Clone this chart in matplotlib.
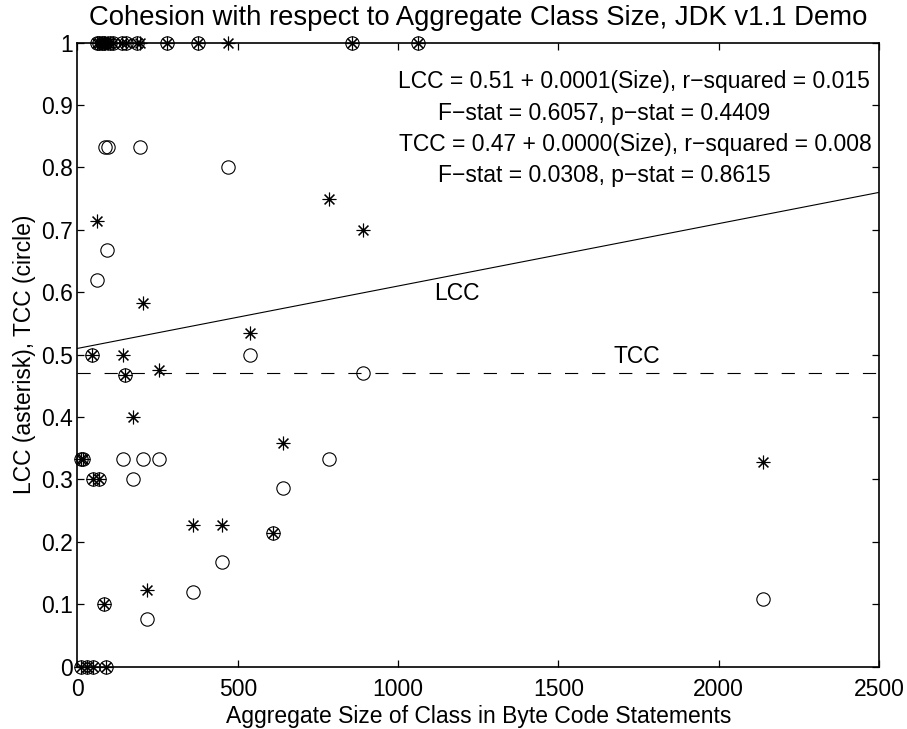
import matplotlib
matplotlib.use("Agg")
import matplotlib.pyplot as plt

# class size (byte code statements) and cohesion values per class
size = [60, 68, 75, 82, 86, 93, 94, 100, 112, 140, 150, 185, 195, 280, 375, 471, 856, 1063,
        62, 784, 890, 203, 538, 44, 143, 148, 254, 172, 10, 16, 50, 68,
        640, 361, 452, 609, 216, 83, 10, 29, 49, 88, 2137]
lcc = [1, 1, 1, 1, 1, 1, 1, 1, 1, 1, 1, 1, 1, 1, 1, 1, 1, 1,
       0.714, 0.75, 0.70, 0.583, 0.535, 0.5, 0.5, 0.467, 0.476, 0.4, 0.333, 0.333, 0.3, 0.3,
       0.358, 0.227, 0.227, 0.214, 0.123, 0.1, 0, 0, 0, 0, 0.328]
tcc = [1, 1, 1, 1, 0.833, 0.667, 0.833, 1, 1, 1, 1, 1, 0.833, 1, 1, 0.8, 1, 1,
       0.62, 0.333, 0.47, 0.333, 0.5, 0.5, 0.333, 0.467, 0.333, 0.3, 0.333, 0.333, 0.3, 0.3,
       0.286, 0.12, 0.167, 0.214, 0.077, 0.1, 0, 0, 0, 0, 0.108]

# regression fits (intercept, slope)
lcc_fit = (0.51, 0.0001)
tcc_fit = (0.47, 0.0)

stats_lines = ["LCC = 0.51 + 0.0001(Size), r\u2212squared = 0.015",
               "F\u2212stat = 0.6057, p\u2212stat = 0.4409",
               "TCC = 0.47 + 0.0000(Size), r\u2212squared = 0.008",
               "F\u2212stat = 0.0308, p\u2212stat = 0.8615"]

xticks = [0, 500, 1000, 1500, 2000, 2500]
yticks = [0, 0.1, 0.2, 0.3, 0.4, 0.5, 0.6, 0.7, 0.8, 0.9, 1]
yticklabels = ["0", "0.1", "0.2", "0.3", "0.4", "0.5", "0.6", "0.7", "0.8", "0.9", "1"]

plt.rcParams['font.family'] = ['Liberation Sans', 'DejaVu Sans']
plt.rcParams['font.size'] = 16.5
plt.rcParams['lines.scale_dashes'] = False

fig = plt.figure(figsize=(9.07, 7.29), dpi=100)
ax = fig.add_axes([0.0854, 0.0855, 0.8837, 0.856])

# regression lines
ax.axline((0, lcc_fit[0]), slope=lcc_fit[1], color='black', lw=0.8)
ax.axline((0, tcc_fit[0]), slope=tcc_fit[1], color='black', lw=0.8, dashes=(9.5, 10))

# data points
ax.plot(size, lcc, linestyle='none', marker=(8, 2, 0), ms=9.8, mec='black', mew=0.8,
        clip_on=False, zorder=3)
ax.plot(size, tcc, linestyle='none', marker='o', ms=9.6, mfc='none', mec='black', mew=0.8,
        clip_on=False, zorder=3)

ax.text(1183, 0.598, "LCC", ha='center', va='center')
ax.text(1744, 0.497, "TCC", ha='center', va='center')

centers = [1737, 1643, 1741, 1643]
for i, line in enumerate(stats_lines):
    ax.text(centers[i], 0.937 - 0.05 * i, line, ha='center', va='center')

ax.set_xlim(0, 2500)
ax.set_ylim(0, 1)
ax.set_xticks(xticks)
ax.set_xticklabels([str(t) for t in xticks])
ax.set_yticks(yticks)
ax.set_yticklabels(yticklabels)
ax.tick_params(direction='in', length=5.3, width=0.9, top=True, right=True)
ax.tick_params(axis='x', pad=8)
ax.tick_params(axis='y', pad=3)
for s in ax.spines.values():
    s.set_linewidth(1.2)

ax.set_title("Cohesion with respect to Aggregate Class Size, JDK v1.1 Demo", pad=12.4)
ax.set_xlabel("Aggregate Size of Class in Byte Code Statements")
ax.set_ylabel("LCC (asterisk), TCC (circle)")
ax.xaxis.set_label_coords(0.5, -0.061)
ax.yaxis.set_label_coords(-0.052, 0.5)

fig.savefig("out.png", dpi=100)
